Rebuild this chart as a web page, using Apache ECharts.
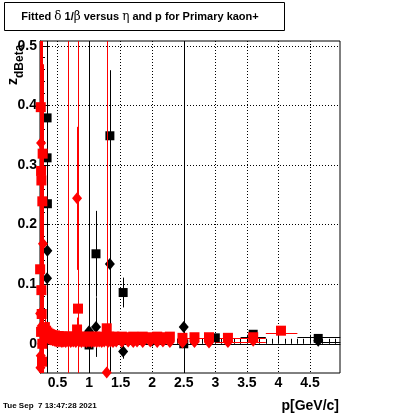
<!DOCTYPE html>
<html><head><meta charset="utf-8">
<script src="https://cdn.jsdelivr.net/npm/echarts@6/dist/echarts.min.js"></script>
<style>html,body{margin:0;padding:0;background:#fff}#c{width:400px;height:414px}</style>
</head><body><div id="c"></div>
<script>
// ---- axis ticks ----
const xMajorTicks = [0.5, 1, 1.5, 2, 2.5, 3, 3.5, 4, 4.5];
const xMinorTicks = [0.3, 0.4, 0.6, 0.7, 0.8, 0.9, 1.1, 1.2, 1.3, 1.4, 1.6, 1.7, 1.8, 1.9, 2.1, 2.2, 2.3, 2.4, 2.6, 2.7, 2.8, 2.9, 3.1, 3.2, 3.3, 3.4, 3.6, 3.7, 3.8, 3.9, 4.1, 4.2, 4.3, 4.4, 4.6, 4.7, 4.8, 4.9];
const yMajorTicks = [0, 0.1, 0.2, 0.3, 0.4, 0.5];
const yMinorTicks = [-0.04, -0.02, 0.02, 0.04, 0.06, 0.08, 0.12, 0.14, 0.16, 0.18, 0.22, 0.24, 0.26, 0.28, 0.32, 0.34, 0.36, 0.38, 0.42, 0.44, 0.46, 0.48];

// ---- black squares ----
const blackSqX   = [0.335, 0.335, 0.34, 1.11, 1.33, 1.54, 2.5, 1.0, 4.63, 3.6, 0.5, 0.7, 0.9, 1.2, 1.8, 2.2, 3.0];
const blackSqY   = [0.379, 0.312, 0.235, 0.151, 0.349, 0.086, 0.0, -0.002, 0.009, 0.016, 0.012, 0.011, 0.010, 0.010, 0.009, 0.009, 0.010];
const blackSqErr = [0.6, 0.04, 0.04, 0.072, 0.11, 0.025, 0.6, 0.6, 0.003, 0.004, 0.004, 0.004, 0.004, 0.004, 0.004, 0.004, 0.004];
// ---- black diamonds ----
const blackDiaX   = [0.34, 0.335, 1.0, 1.11, 1.33, 1.54, 2.5, 4.63, 0.6, 1.4, 2.0];
const blackDiaY   = [0.156, 0.11, 0.021, 0.028, 0.134, -0.013, 0.028, 0.005, 0.006, 0.006, 0.005];
const blackDiaErr = [0.02, 0.02, 0.6, 0.05, 0.2, 0.012, 0.6, 0.003, 0.004, 0.004, 0.004];
// ---- red squares ----
const redSqX = [0.235, 0.265, 0.24, 0.245, 0.26, 0.225, 0.245, 0.25, 0.24, 0.26, 0.255, 0.67, 0.825, 0.81, 1.28,
  0.30, 0.32, 0.34, 0.36, 0.38, 0.40, 0.43, 0.46, 0.49, 0.52, 0.55, 0.58, 0.61, 0.64, 0.70, 0.73, 0.76, 0.86, 0.90, 0.94, 0.98, 1.02, 1.06, 1.10, 1.14, 1.18, 1.22, 1.32, 1.36, 1.40, 1.45, 1.52, 1.62, 1.70, 1.76, 1.85, 1.97, 2.08, 2.17, 2.28, 2.48, 2.67, 2.90, 3.20, 3.60, 4.04];
const redSqY = [0.397, 0.319, 0.29, 0.274, 0.239, 0.125, 0.09, 0.05, 0.02, 0.0, -0.03, 0.012, 0.059, 0.024, 0.026,
  0.028, 0.022, 0.019, 0.017, 0.016, 0.015, 0.014, 0.014, 0.013, 0.013, 0.012, 0.012, 0.012, 0.011, 0.012, 0.011, 0.012, 0.012, 0.011, 0.012, 0.011, 0.012, 0.011, 0.012, 0.011, 0.012, 0.011, 0.012, 0.011, 0.012, 0.011, 0.012, 0.011, 0.012, 0.011, 0.012, 0.011, 0.012, 0.011, 0.012, 0.010, 0.011, 0.011, 0.010, 0.011, 0.022];
const redSqErr = [0.6, 0.15, 0.6, 0.6, 0.2, 0.6, 0.6, 0.6, 0.08, 0.6, 0.05, 0.6, 0.6, 0.02, 0.6,
  0.02, 0.015, 0.01, 0.008, 0.008, 0.006, 0.006, 0.006, 0.006, 0.006, 0.006, 0.006, 0.006, 0.006, 0.006, 0.006, 0.006, 0.006, 0.006, 0.006, 0.006, 0.006, 0.006, 0.006, 0.006, 0.006, 0.006, 0.006, 0.006, 0.006, 0.006, 0.006, 0.006, 0.006, 0.006, 0.006, 0.006, 0.006, 0.006, 0.006, 0.006, 0.006, 0.006, 0.006, 0.006, 0.006];
// ---- red diamonds ----
const redDiaX = [0.81, 0.24, 0.27, 0.225, 1.28, 0.26, 0.235, 0.25, 0.23,
  0.31, 0.33, 0.35, 0.37, 0.39, 0.42, 0.45, 0.48, 0.51, 0.54, 0.57, 0.60, 0.63, 0.67, 0.71, 0.75, 0.79, 0.84, 0.88, 0.92, 0.96, 1.00, 1.04, 1.08, 1.12, 1.16, 1.20, 1.24, 1.30, 1.34, 1.38, 1.43, 1.52, 1.62, 1.70, 1.76, 1.85, 1.97, 2.08, 2.17, 2.28, 2.48, 2.67, 2.90, 3.20, 3.60, 4.04];
const redDiaY = [0.244, 0.337, 0.168, 0.051, -0.048, 0.0, -0.02, 0.03, -0.04,
  0.02, 0.014, 0.010, 0.008, 0.007, 0.006, 0.005, 0.004, 0.004, 0.004, 0.003, 0.004, 0.003, 0.004, 0.003, 0.004, 0.003, 0.004, 0.003, 0.004, 0.003, 0.004, 0.003, 0.004, 0.003, 0.004, 0.003, 0.004, 0.003, 0.004, 0.003, 0.004, 0.003, 0.004, 0.003, 0.004, 0.003, 0.004, 0.003, 0.004, 0.003, 0.002, 0.003, 0.002, 0.003, 0.005];
const redDiaErr = [0.12, 0.1, 0.27, 0.1, 0.6, 0.6, 0.04, 0.05, 0.6,
  0.02, 0.01, 0.008, 0.006, 0.006, 0.005, 0.005, 0.005, 0.005, 0.005, 0.005, 0.005, 0.005, 0.005, 0.005, 0.005, 0.005, 0.005, 0.005, 0.005, 0.005, 0.005, 0.005, 0.005, 0.005, 0.005, 0.005, 0.005, 0.005, 0.005, 0.005, 0.005, 0.005, 0.005, 0.005, 0.005, 0.005, 0.005, 0.005, 0.005, 0.005, 0.005, 0.005, 0.005, 0.005, 0.005];
// ---- step (histogram) segments: [xStart, xEnd, y] ----
const redStepX1 = [2.4, 3.0, 3.8];
const redStepX2 = [3.8, 3.8, 4.3];
const redStepY  = [0.009, 0.003, 0.018];
const blackStepX1 = [3.4, 4.3, 4.6];
const blackStepX2 = [3.8, 4.98, 4.98];
const blackStepY  = [0.011, 0.011, 0.003];

const FONT = '"Liberation Sans", Arial, Helvetica, sans-serif';

function zip3(a, b, c) { return a.map((v, i) => [v, b[i], c[i]]); }

function errSeries(xs, ys, es, color, z) {
  return {
    type: 'custom', z: z, silent: true, clip: true,
    data: zip3(xs, ys, es),
    encode: { x: 0, y: 1 },
    renderItem: function (params, api) {
      const x = api.value(0), y = api.value(1), e = api.value(2);
      const p1 = api.coord([x, y - e]), p2 = api.coord([x, y + e]);
      const cs = params.coordSys;
      const top = cs.y, bot = cs.y + cs.height;
      const y1 = Math.min(Math.max(p1[1], top), bot);
      const y2 = Math.min(Math.max(p2[1], top), bot);
      const px = Math.round(p1[0]) + 0.5;
      return { type: 'line', shape: { x1: px, y1: y1, x2: px, y2: y2 }, style: { stroke: color, lineWidth: 1 } };
    }
  };
}
function stepSeries(x1s, x2s, ys, color, z, dash) {
  return {
    type: 'custom', z: z, silent: true,
    data: zip3(x1s, x2s, ys),
    encode: { x: [0, 1], y: 2 },
    renderItem: function (params, api) {
      const a = api.coord([api.value(0), api.value(2)]);
      const b = api.coord([api.value(1), api.value(2)]);
      const py = Math.round(a[1]) + 0.5;
      return { type: 'line', shape: { x1: a[0], y1: py, x2: b[0], y2: py }, style: { stroke: color, lineWidth: 1, lineDash: dash || null } };
    }
  };
}
function markSeries(xs, ys, symbol, size, color, z) {
  return {
    type: 'scatter', z: z, silent: true, symbol: symbol, symbolSize: size,
    data: xs.map((x, i) => [x, ys[i]]),
    itemStyle: { color: color, opacity: 1 }
  };
}

const chart = echarts.init(document.getElementById('c'), null, { renderer: 'canvas' });
chart.setOption({
  animation: false,
  backgroundColor: '#fff',
  grid: { left: 40, top: 41, width: 300, height: 332, show: true, borderColor: '#000', borderWidth: 1, backgroundColor: 'transparent' },
  xAxis: [{
    type: 'value', min: 0.223, max: 4.975,
    axisLine: { show: true, lineStyle: { color: '#000', width: 1 } },
    axisTick: { show: true, inside: true, length: 9, customValues: xMajorTicks, lineStyle: { color: '#000' } },
    axisLabel: { customValues: xMajorTicks, color: '#000', fontFamily: FONT, fontWeight: 'bold', fontSize: 14, margin: 3 },
    splitLine: { show: true, lineStyle: { color: '#000', width: 1, type: [1, 2] } }
  }, {
    type: 'value', min: 0.223, max: 4.975, position: 'bottom',
    axisLine: { show: false },
    axisTick: { show: true, inside: true, length: 5, customValues: xMinorTicks, lineStyle: { color: '#000' } },
    axisLabel: { show: false },
    splitLine: { show: false }
  }],
  yAxis: [{
    type: 'value', min: -0.049, max: 0.508,
    axisLine: { show: true, lineStyle: { color: '#000', width: 1 } },
    axisTick: { show: true, inside: true, length: 9, customValues: yMajorTicks, lineStyle: { color: '#000' } },
    axisLabel: { customValues: yMajorTicks, color: '#000', fontFamily: FONT, fontWeight: 'bold', fontSize: 14, margin: 3 },
    splitLine: { show: true, lineStyle: { color: '#000', width: 1, type: [1, 2] } }
  }, {
    type: 'value', min: -0.049, max: 0.508, position: 'left',
    axisLine: { show: false },
    axisTick: { show: true, inside: true, length: 5, customValues: yMinorTicks, lineStyle: { color: '#000' } },
    axisLabel: { show: false },
    splitLine: { show: false }
  }],
  series: [
    stepSeries(blackStepX1, blackStepX2, blackStepY, '#000', 2),
    stepSeries(redStepX1, redStepX2, redStepY, '#ff0000', 2),
    errSeries(blackSqX, blackSqY, blackSqErr, '#000', 3),
    errSeries(blackDiaX, blackDiaY, blackDiaErr, '#000', 3),
    markSeries(blackSqX, blackSqY, 'rect', 9, '#000', 4),
    markSeries(blackDiaX, blackDiaY, 'diamond', [10, 12], '#000', 4),
    errSeries(redSqX, redSqY, redSqErr, '#ff0000', 5),
    errSeries(redDiaX, redDiaY, redDiaErr, '#ff0000', 5),
    markSeries(redDiaX, redDiaY, 'diamond', [10, 12], '#ff0000', 6),
    markSeries(redSqX, redSqY, 'rect', 10, '#ff0000', 6)
  ],
  graphic: [
    { type: 'rect', shape: { x: 4.5, y: 2.5, width: 280, height: 28 }, style: { fill: '#fff', stroke: '#000', lineWidth: 1 }, z: 10 },
    { type: 'text', x: 140, y: 17, z: 11, style: {
        text: '{b|Fitted }{g|δ}{b| 1/}{g|β}{b| versus }{g|η}{b| and p for Primary kaon+}',
        rich: { b: { fontFamily: FONT, fontWeight: 'bold', fontSize: 11, fill: '#000' }, g: { fontFamily: '"DejaVu Serif", serif', fontSize: 12, fill: '#000' } },
        align: 'center', verticalAlign: 'middle', fill: '#000' } },
    { type: 'text', x: 339, y: 406, style: { text: 'p[GeV/c]', fontFamily: FONT, fontWeight: 'bold', fontSize: 14, fill: '#000', align: 'right', verticalAlign: 'middle' } },
    { type: 'text', x: 3, y: 406, style: { text: 'Tue Sep  7 13:47:28 2021', fontFamily: FONT, fontWeight: 'bold', fontSize: 8, fill: '#000', align: 'left', verticalAlign: 'middle' } },
    { type: 'text', x: 13, y: 85, rotation: Math.PI / 2, style: { text: 'z', fontFamily: FONT, fontWeight: 'bold', fontSize: 14, fill: '#000', align: 'left', verticalAlign: 'middle' } },
    { type: 'text', x: 20, y: 78, rotation: Math.PI / 2, style: { text: 'dBeta', fontFamily: FONT, fontWeight: 'bold', fontSize: 12, fill: '#000', align: 'left', verticalAlign: 'middle' } }
  ]
});
</script>
</body></html>
